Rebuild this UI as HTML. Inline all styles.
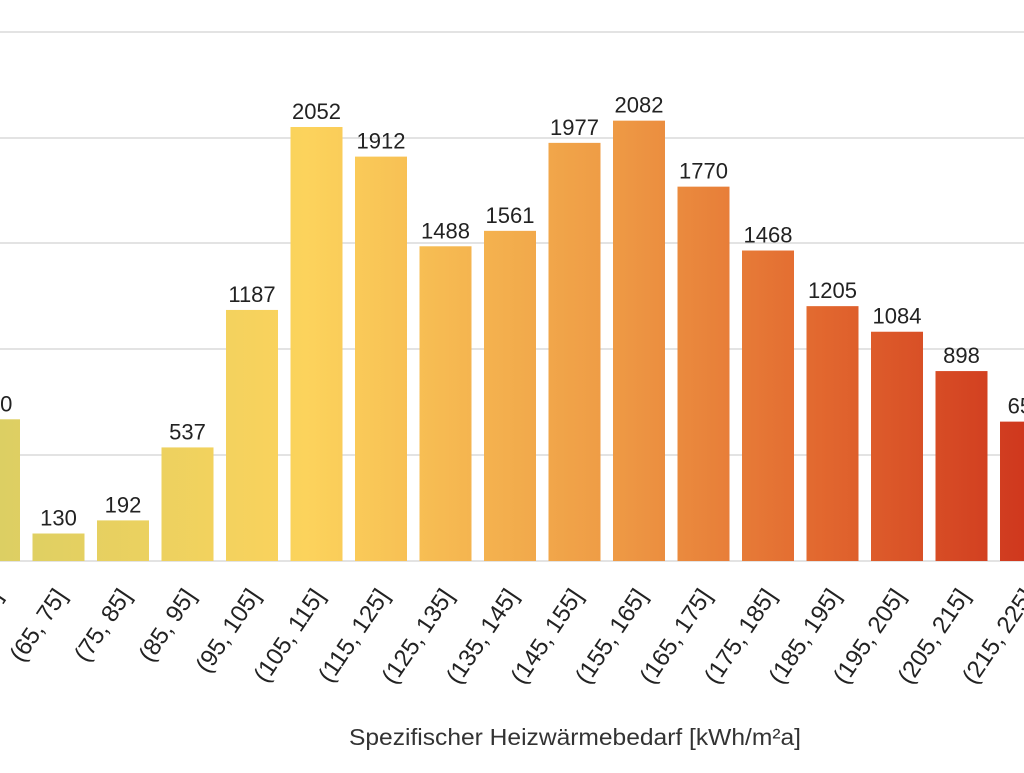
<!DOCTYPE html>
<html><head><meta charset="utf-8"><style>html,body{margin:0;padding:0;background:#fff;overflow:hidden}</style></head>
<body>
<svg width="1024" height="768" xmlns="http://www.w3.org/2000/svg" font-family="Liberation Sans, sans-serif">
<defs>
<linearGradient id="g" gradientUnits="userSpaceOnUse" x1="0" y1="0" x2="1024" y2="0">
<stop offset="0" stop-color="#dccf63"/>
<stop offset="0.3" stop-color="#fcd35c"/>
<stop offset="0.6" stop-color="#ee9a45"/>
<stop offset="0.8" stop-color="#e2682f"/>
<stop offset="1" stop-color="#cf381e"/>
</linearGradient>
</defs>
<g stroke="#e3e3e3" stroke-width="2">
<line x1="0" x2="1024" y1="32" y2="32"/><line x1="0" x2="1024" y1="138" y2="138"/>
<line x1="0" x2="1024" y1="243" y2="243"/><line x1="0" x2="1024" y1="349" y2="349"/>
<line x1="0" x2="1024" y1="455" y2="455"/><line x1="0" x2="1024" y1="561" y2="561"/>
</g>
<g id="bars" fill="url(#g)"></g>
<g id="vals" font-size="22" fill="#222" text-anchor="middle"></g>
<g id="cats" font-size="24" fill="#222" text-anchor="end"></g>
<text x="575" y="745" font-size="23" fill="#333" text-anchor="middle" textLength="452" lengthAdjust="spacingAndGlyphs">Spezifischer Heizwärmebedarf [kWh/m²a]</text>
</svg>
<script>
var vals=[670,130,192,537,1187,2052,1912,1488,1561,1977,2082,1770,1468,1205,1084,898,659];
var cats=["(55, 65]","(65, 75]","(75, 85]","(85, 95]","(95, 105]","(105, 115]","(115, 125]","(125, 135]","(135, 145]","(145, 155]","(155, 165]","(165, 175]","(175, 185]","(185, 195]","(195, 205]","(205, 215]","(215, 225]"];
var ns="http://www.w3.org/2000/svg";
function el(t,a,p,txt){var e=document.createElementNS(ns,t);for(var k in a)e.setAttribute(k,a[k]);if(txt)e.textContent=txt;document.getElementById(p).appendChild(e);return e;}
for(var i=0;i<vals.length;i++){
 var x=-32+i*64.5, h=vals[i]*0.2115, y=561-h, cx=x+26;
 el("rect",{x:x,y:y,width:52,height:h},"bars");
 el("text",{x:cx,y:y-8},"vals",String(vals[i]));
 el("text",{x:cx+9,y:596,transform:"rotate(-56 "+(cx+9)+" 596)"},"cats",cats[i]);
}
</script>
</body></html>
